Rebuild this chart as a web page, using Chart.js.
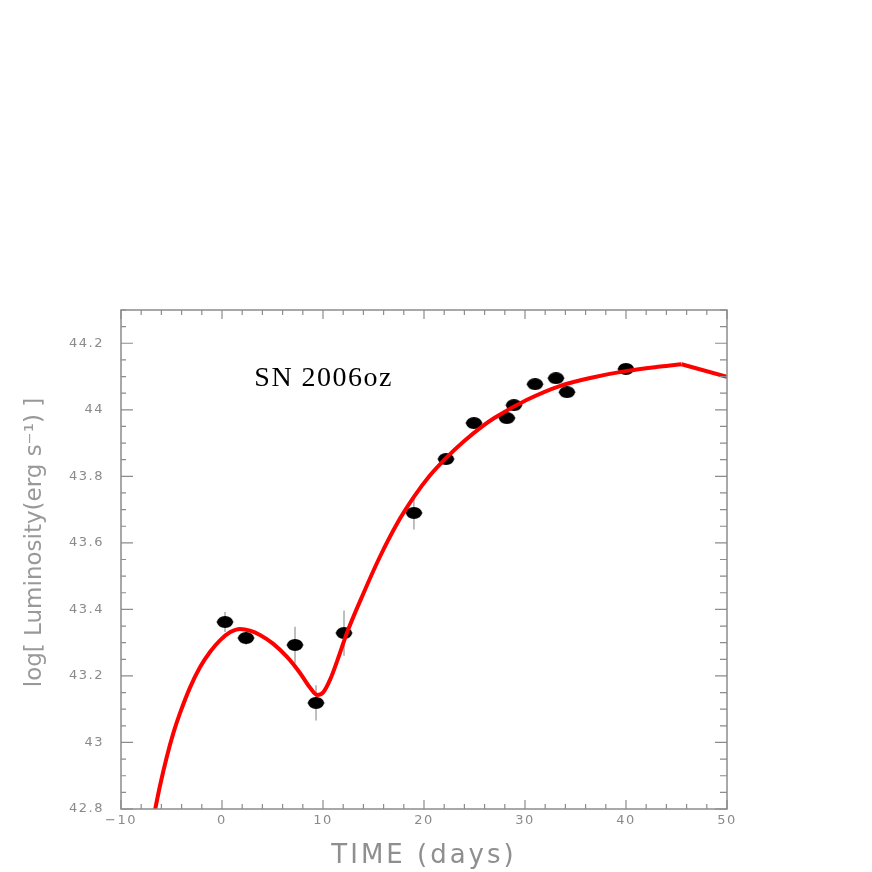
<!DOCTYPE html>
<html lang="en">
<head>
    <meta charset="UTF-8">
    <title>SN 2006oz light curve</title>
    <style>
        body {
            margin: 0;
            background: #ffffff;
        }

        .chartBox {
            width: 872px;
            height: 872px;
        }
    </style>
    <script src="https://cdn.jsdelivr.net/npm/chart.js"></script>
</head>
<body>
    <div class="chartBox">
        <canvas id="lcChart"></canvas>
    </div>
    <script>
        // axis ticks
        const xTicks = [-10, 0, 10, 20, 30, 40, 50];
        const yTicks = [42.8, 43.0, 43.2, 43.4, 43.6, 43.8, 44.0, 44.2];

        // observed points (days, log L) with error bars
        const obsTime = [0.3, 2.38, 7.23, 9.31, 12.08, 19.0, 22.18, 24.95, 28.2, 28.9, 31.0, 33.07, 34.16, 40.0];
        const obsLum = [43.362, 43.314, 43.293, 43.119, 43.329, 43.69, 43.852, 43.96, 43.975, 44.014, 44.077, 44.095, 44.053, 44.123];
        const obsLumErr = [0.03, 0.02, 0.055, 0.053, 0.068, 0.05, 0.015, 0.015, 0.015, 0.015, 0.015, 0.015, 0.015, 0.015];
        const obsTimeErr = [0.9, 0.9, 0.9, 0.9, 0.9, 0.9, 0.9, 0.9, 0.9, 0.9, 0.9, 0.9, 0.9, 0.9];

        // model curve (red)
        const modelTime = [-7.0, -6.63, -6.14, -5.48, -4.82, -4.16, -3.17, -2.18, -1.19, -0.2, 0.79, 1.78, 2.77, 3.76, 5.05, 6.44, 7.72, 8.71, 9.41, 10.0, 10.69, 11.68, 12.35, 14.0, 15.6, 17.3, 19.0, 20.6, 22.25, 23.9, 25.9, 27.0, 30.2, 33.5, 36.8, 40.1, 43.4, 45.5];
        const modelLum = [42.74, 42.797, 42.870, 42.955, 43.028, 43.088, 43.165, 43.226, 43.272, 43.307, 43.331, 43.341, 43.336, 43.323, 43.297, 43.257, 43.209, 43.165, 43.143, 43.150, 43.188, 43.269, 43.328, 43.448, 43.556, 43.656, 43.738, 43.803, 43.857, 43.904, 43.953, 43.976, 44.030, 44.072, 44.098, 44.117, 44.130, 44.137];
        const tailTime = [45.5, 50];
        const tailLum = [44.137, 44.099];

        const axisGray = '#8c8c8c';
        const labelGray = '#8a8a8a';

        const ellipseMarker = (w, h) => {
            const c = document.createElement('canvas');
            c.width = w;
            c.height = h;
            const g = c.getContext('2d');
            g.fillStyle = '#000000';
            g.beginPath();
            g.ellipse(w / 2, h / 2, w / 2, h / 2, 0, 0, Math.PI * 2);
            g.fill();
            return c;
        };

        const toPoints = (xs, ys) => xs.map((x, i) => ({ x: x, y: ys[i] }));

        const titleStyle = {
            x: { spacing: '3px', shift: 0 },
            y: { spacing: '0px', shift: -17 }
        };

        const framePlugin = {
            id: 'frame',
            beforeDraw(chart) {
                chart.ctx.letterSpacing = '1.5px';
                Object.keys(titleStyle).forEach(id => {
                    const s = chart.scales[id];
                    if (!s || s._titlePatched) return;
                    const orig = s.drawTitle.bind(s);
                    s.drawTitle = function () {
                        const ctx = this.ctx;
                        ctx.save();
                        ctx.letterSpacing = titleStyle[id].spacing;
                        ctx.translate(0, titleStyle[id].shift);
                        orig();
                        ctx.restore();
                    };
                    s._titlePatched = true;
                });
            },
            beforeDatasetsDraw(chart) {
                // error bars under the markers
                const { ctx, scales: { x, y } } = chart;
                ctx.save();
                ctx.strokeStyle = '#aaaaaa';
                ctx.lineWidth = 1.5;
                obsTime.forEach((t, i) => {
                    const px = x.getPixelForValue(t);
                    const py = y.getPixelForValue(obsLum[i]);
                    ctx.beginPath();
                    ctx.moveTo(px, y.getPixelForValue(obsLum[i] - obsLumErr[i]));
                    ctx.lineTo(px, y.getPixelForValue(obsLum[i] + obsLumErr[i]));
                    ctx.moveTo(x.getPixelForValue(t - obsTimeErr[i]), py);
                    ctx.lineTo(x.getPixelForValue(t + obsTimeErr[i]), py);
                    ctx.stroke();
                });
                ctx.restore();
            },
            afterDatasetsDraw(chart) {
                const { ctx, chartArea: a, scales: { x, y } } = chart;
                ctx.save();
                ctx.strokeStyle = axisGray;
                ctx.lineWidth = 1.5;
                ctx.strokeRect(a.left, a.top, a.right - a.left, a.bottom - a.top);

                ctx.lineWidth = 1.2;
                ctx.beginPath();
                // x ticks, bottom and top
                for (let v = xTicks[0]; v <= xTicks[xTicks.length - 1] + 1e-9; v += 2) {
                    const px = x.getPixelForValue(v);
                    const major = Math.abs(v % 10) < 1e-6;
                    const len = major ? 9 : 5;
                    ctx.moveTo(px, a.bottom);
                    ctx.lineTo(px, a.bottom - len);
                    ctx.moveTo(px, a.top);
                    ctx.lineTo(px, a.top + len);
                }
                // y ticks, left and right
                for (let k = 0; k <= 30; k++) {
                    const v = 42.8 + k * 0.05;
                    const py = y.getPixelForValue(v);
                    const major = k % 4 === 0;
                    ctx.moveTo(a.left, py);
                    ctx.lineTo(a.left + (major ? 12 : 5), py);
                    ctx.moveTo(a.right, py);
                    ctx.lineTo(a.right - (major ? 12 : 7), py);
                }
                ctx.stroke();

                // label inside the plot
                ctx.letterSpacing = '1.5px';
                ctx.fillStyle = '#000000';
                ctx.font = '28px "Liberation Serif", "Times New Roman", serif';
                ctx.textAlign = 'left';
                ctx.textBaseline = 'alphabetic';
                ctx.fillText('SN 2006oz', x.getPixelForValue(3.2), y.getPixelForValue(44.071));
                ctx.restore();
            }
        };

        new Chart(document.getElementById('lcChart'), {
            type: 'scatter',
            data: {
                datasets: [
                    {
                        label: 'model',
                        type: 'line',
                        data: toPoints(modelTime, modelLum),
                        borderColor: '#ff0000',
                        borderWidth: 4,
                        pointRadius: 0,
                        cubicInterpolationMode: 'monotone',
                        fill: false,
                        clip: 0,
                        order: 0
                    },
                    {
                        label: 'model tail',
                        type: 'line',
                        data: toPoints(tailTime, tailLum),
                        borderColor: '#ff0000',
                        borderWidth: 4,
                        pointRadius: 0,
                        tension: 0,
                        fill: false,
                        clip: 0,
                        order: 0
                    },
                    {
                        label: 'SN 2006oz',
                        data: toPoints(obsTime, obsLum),
                        pointStyle: ellipseMarker(16, 12),
                        pointRadius: 8,
                        order: 1
                    }
                ]
            },
            options: {
                responsive: true,
                maintainAspectRatio: false,
                animation: false,
                layout: {
                    padding: { left: 0, top: 310, right: 145, bottom: 0 }
                },
                plugins: {
                    legend: { display: false },
                    tooltip: { enabled: false }
                },
                scales: {
                    x: {
                        type: 'linear',
                        min: -10,
                        max: 50,
                        afterBuildTicks: s => { s.ticks = xTicks.map(v => ({ value: v })); },
                        afterFit: s => { s.height = 63; },
                        grid: { display: false, drawTicks: false },
                        border: { display: false },
                        ticks: {
                            padding: 4,
                            color: labelGray,
                            font: { family: '"DejaVu Sans", sans-serif', size: 13 },
                            callback: v => (v < 0 ? '\u2212' + Math.abs(v) : String(v))
                        },
                        title: {
                            display: true,
                            text: 'TIME (days)',
                            color: '#8f8f8f',
                            font: { family: '"DejaVu Sans", sans-serif', size: 26 },
                            padding: { top: 0, bottom: 0 }
                        }
                    },
                    y: {
                        type: 'linear',
                        min: 42.8,
                        max: 44.3,
                        afterBuildTicks: s => { s.ticks = yTicks.map(v => ({ value: v })); },
                        afterFit: s => { s.width = 121; },
                        grid: { display: false, drawTicks: false },
                        border: { display: false },
                        ticks: {
                            padding: 17,
                            color: labelGray,
                            font: { family: '"DejaVu Sans", sans-serif', size: 13 },
                            callback: v => String(Number(v.toFixed(1)))
                        },
                        title: {
                            display: true,
                            text: 'log[ Luminosity(erg s\u207B\u00B9) ]',
                            color: '#999999',
                            font: { family: '"DejaVu Sans", sans-serif', size: 23 },
                            padding: { top: 21, bottom: 0 }
                        }
                    }
                }
            },
            plugins: [framePlugin]
        });
    </script>
</body>
</html>
